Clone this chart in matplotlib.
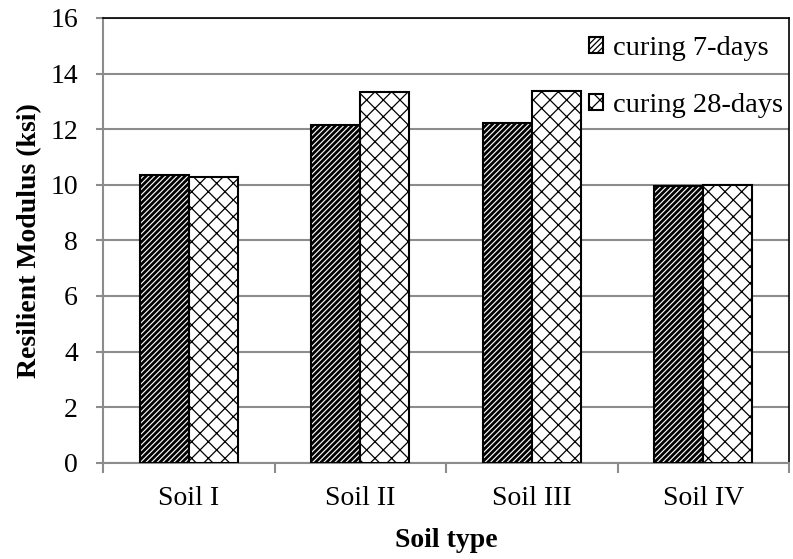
import numpy as np
import matplotlib.pyplot as plt

# values
soils = ['Soil I', 'Soil II', 'Soil III', 'Soil IV']
mr_7day = [10.35, 12.15, 12.22, 9.97]
mr_28day = [10.27, 13.33, 13.37, 10.0]
series_names = ['curing 7-days', 'curing 28-days']

plt.rcParams['font.family'] = ['Liberation Serif', 'DejaVu Serif']

fig = plt.figure(figsize=(7.93, 5.59), dpi=100)
ax = fig.add_axes([0.130, 0.172, 0.865, 0.796])

x = np.arange(len(soils))
w = 0.285
# hatch linewidth is picked up when the patch is made
plt.rcParams['hatch.linewidth'] = 2.0
b1 = ax.bar(x - w / 2, mr_7day, w, color='white', edgecolor='black', linewidth=1.5,
            hatch='//////', label=series_names[0], zorder=3)
plt.rcParams['hatch.linewidth'] = 0.9
b2 = ax.bar(x + w / 2, mr_28day, w, color='white', edgecolor='black', linewidth=1.5,
            hatch='xx', label=series_names[1], zorder=3)

ax.set_xlim(-0.5, len(soils) - 0.5)
ax.set_ylim(0, 16)
ax.set_yticks(np.arange(0, 17, 2))
ax.set_xticks(x)
ax.set_xticklabels(soils, fontsize=20)
ax.set_xticks(np.arange(-0.5, len(soils), 1), minor=True)
ax.tick_params(axis='x', which='major', length=0, pad=17)
ax.tick_params(axis='x', which='minor', length=7, width=1.5, color='#8c8c8c')
ax.tick_params(axis='y', length=5, width=1.5, color='#8c8c8c', labelsize=20, pad=13)

ax.yaxis.grid(True, color='#8c8c8c', linewidth=1.5, zorder=0)
ax.set_axisbelow(True)
for side in ['left', 'bottom']:
    ax.spines[side].set_color('#8c8c8c')
    ax.spines[side].set_linewidth(1.5)
for side in ['top', 'right']:
    ax.spines[side].set_color('black')
    ax.spines[side].set_linewidth(1.2)

ax.set_ylabel('Resilient Modulus (ksi)', fontsize=20, fontweight='bold', labelpad=6)
ax.set_xlabel('Soil type', fontsize=20, fontweight='bold', labelpad=12)

ax.legend(loc='upper right', bbox_to_anchor=(1.0, 0.972), frameon=False, fontsize=20.5,
          handlelength=0.5, handleheight=0.5, handletextpad=0.35, labelspacing=1.12,
          borderaxespad=0.0, borderpad=0.2)

fig.savefig('out.png', dpi=100)
